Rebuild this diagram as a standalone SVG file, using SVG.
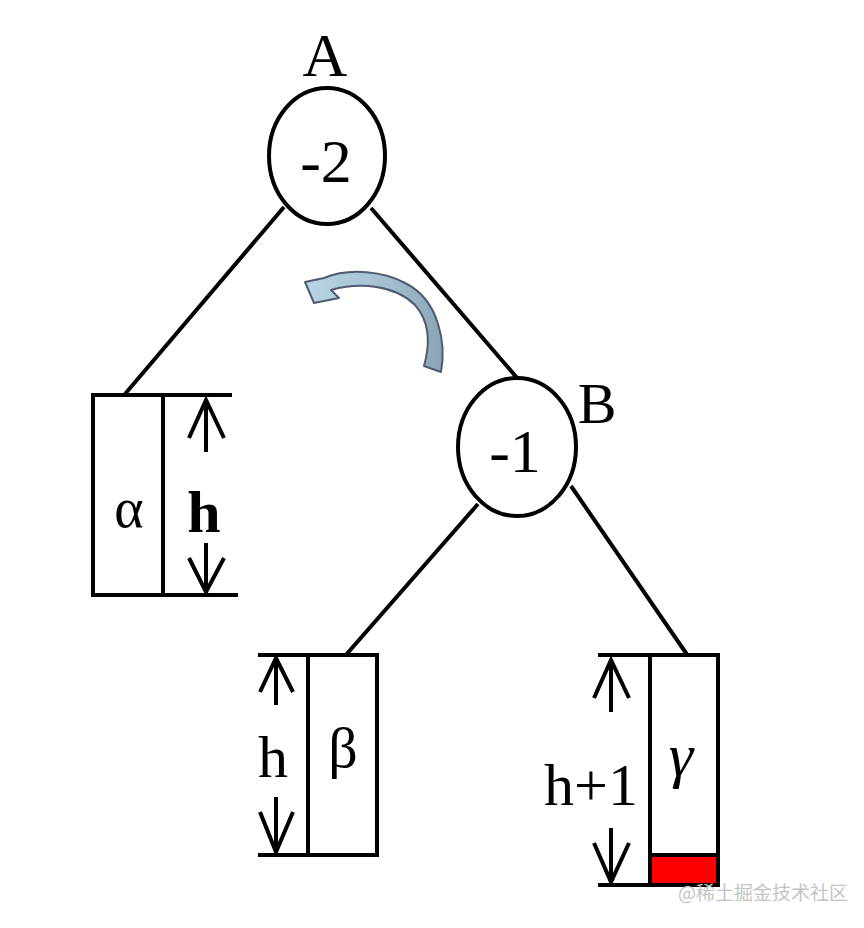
<svg xmlns="http://www.w3.org/2000/svg" width="864" height="928" viewBox="0 0 864 928">
<style>
.ln{stroke:#000;stroke-width:4;fill:none;stroke-linecap:butt}
.bx{stroke:#000;stroke-width:4;fill:#fff}
.nd{stroke:#000;stroke-width:4;fill:#fff}
.t{font-family:"Liberation Serif","Times New Roman",serif;fill:#000;text-anchor:middle}
.ar{stroke:#000;stroke-width:4;fill:none;stroke-linejoin:miter}
</style>
<defs>
<linearGradient id="gr" x1="0" y1="0" x2="1" y2="0">
<stop offset="0" stop-color="#b9d4e4"/>
<stop offset="0.6" stop-color="#a4c0d0"/>
<stop offset="1" stop-color="#8aa4b4"/>
</linearGradient>
</defs>
<rect width="864" height="928" fill="#fff"/>
<g id="connectors">
<line class="ln" x1="284" y1="207" x2="125" y2="394"/>
<line class="ln" x1="371" y1="208" x2="518" y2="379"/>
<line class="ln" x1="478" y1="504" x2="345" y2="656"/>
<line class="ln" x1="571" y1="486" x2="688" y2="656"/>
</g>
<g id="rotate-arrow">
<path d="M441,372 C446,345 440,300 405,283 C385,272 350,267 324,278 L305,282 L314,303 L339,298 L331,290 C360,282 395,285 415,305 C430,322 430,345 424,366 Z" fill="url(#gr)" stroke="#4f5b73" stroke-width="2" stroke-linejoin="round"/>
</g>
<g id="nodeA">
<ellipse class="nd" cx="327" cy="156" rx="58" ry="68"/>
<text class="t" x="326" y="182" font-size="62">-2</text>
<text class="t" x="325" y="76" font-size="62">A</text>
</g>
<g id="nodeB">
<ellipse class="nd" cx="517" cy="447" rx="59" ry="69"/>
<text class="t" x="515" y="472" font-size="62">-1</text>
<text class="t" x="597" y="423" font-size="58">B</text>
</g>
<g id="alpha">
<rect class="bx" x="93" y="395" width="70" height="200"/>
<text class="t" x="129" y="527" font-size="56">α</text>
<line class="ln" x1="163" y1="395" x2="232" y2="395"/>
<line class="ln" x1="163" y1="595" x2="238" y2="595"/>
<line class="ln" x1="206" y1="402" x2="206" y2="452"/>
<polyline class="ar" points="189,438 206,400 224,438"/>
<line class="ln" x1="206" y1="543" x2="206" y2="590"/>
<polyline class="ar" points="189,558 206,592 224,558"/>
<text class="t" x="204" y="532" font-size="60" font-weight="bold">h</text>
</g>
<g id="beta">
<rect class="bx" x="308" y="655" width="69" height="200"/>
<text class="t" x="343" y="767" font-size="58">β</text>
<line class="ln" x1="258" y1="655" x2="308" y2="655"/>
<line class="ln" x1="258" y1="855" x2="308" y2="855"/>
<line class="ln" x1="276" y1="660" x2="276" y2="705"/>
<polyline class="ar" points="260,692 276,658 293,692"/>
<line class="ln" x1="276" y1="797" x2="276" y2="850"/>
<polyline class="ar" points="260,812 276,852 293,812"/>
<text class="t" x="273" y="777" font-size="60">h</text>
</g>
<g id="gamma">
<rect class="bx" x="650" y="655" width="68" height="230"/>
<rect x="652" y="857" width="64" height="26" fill="#ff0000"/>
<line class="ln" x1="650" y1="855" x2="718" y2="855"/>
<text class="t" x="681" y="776" font-size="62" font-style="italic">γ</text>
<line class="ln" x1="598" y1="655" x2="650" y2="655"/>
<line class="ln" x1="598" y1="885" x2="650" y2="885"/>
<line class="ln" x1="611" y1="662" x2="611" y2="712"/>
<polyline class="ar" points="594,698 611,660 629,698"/>
<line class="ln" x1="611" y1="828" x2="611" y2="880"/>
<polyline class="ar" points="594,843 611,882 629,843"/>
<text class="t" x="591" y="805" font-size="60">h+1</text>
</g>
<text x="678" y="900" font-family="'Noto Sans CJK SC','Noto Sans',sans-serif" font-size="19" fill="#c4c4c4">@稀土掘金技术社区</text>
</svg>
